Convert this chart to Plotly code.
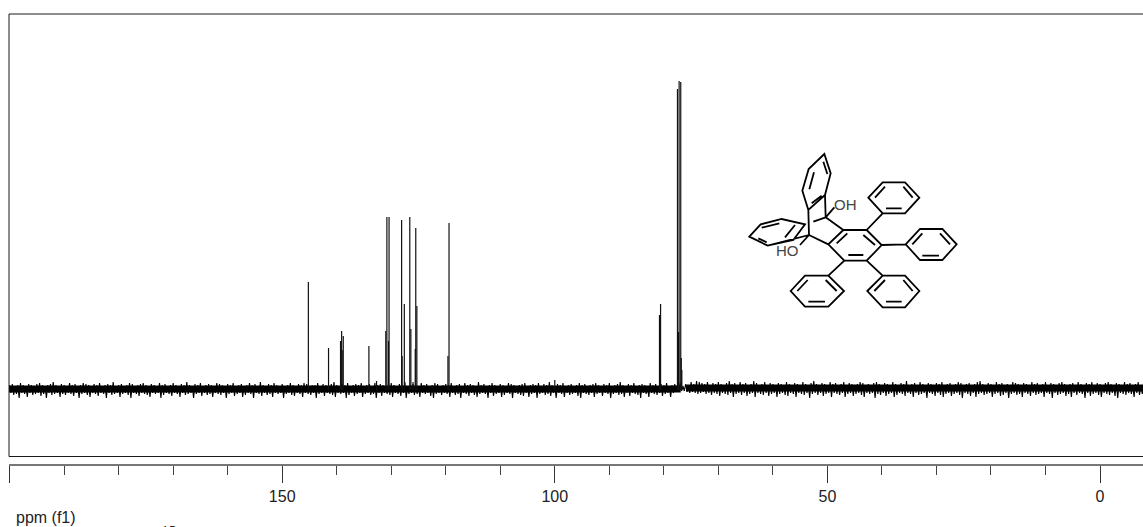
import plotly.graph_objects as go

W, H = 1143, 527

# --- spectrum peaks (ppm, height above baseline) ---
peak_ppm = [145.2, 141.5, 139.3, 139.1, 139.0, 138.8, 134.1, 132.7, 131.0, 130.8, 130.5, 130.4,
            128.1, 128.0, 127.6, 126.6, 126.4, 126.0, 125.6, 125.5, 125.3, 119.6, 119.4,
            100.0, 80.8, 80.6, 77.5, 77.3, 77.2, 76.9, 76.8, 76.7]
peak_height = [108, 42, 49, 59, 40, 54, 44, 9, 59, 173, 49, 173,
               170, 34, 86, 173, 61, 8, 41, 162, 84, 34, 167,
               10, 75, 86, 301, 58, 309, 308, 32, 20]

# --- baseline noise envelope, sampled every 0.5 ppm from 200 ppm downward ---
noise_up = [
 5,6,4,5,7,5,4,6,5,4,6,7,5,4,5,6,8,5,4,6,
 5,4,7,5,6,4,5,7,6,5,4,6,5,7,4,5,6,5,8,4,
 5,6,4,5,7,6,4,5,6,7,5,4,6,5,4,7,5,6,4,5,
 7,5,4,6,5,8,5,4,6,5,7,4,5,6,5,4,7,6,5,4,
 6,5,7,4,5,6,4,5,7,5,6,4,8,5,4,6,5,7,5,4,
 6,4,5,7,5,4,6,5,7,6,4,5,5,7,4,6,5,4,6,8,
 5,4,6,5,7,4,5,6,5,7,4,5,6,4,7,5,6,5,4,6,
 7,5,4,6,5,8,4,5,6,5,4,7,5,6,4,5,7,6,4,5,
 6,5,7,4,5,6,4,7,5,6,5,4,8,5,6,4,5,7,5,4,
 6,5,4,7,6,5,4,5,6,7,4,5,6,5,7,4,6,5,8,5,
 4,6,5,7,4,5,6,4,5,7,5,6,4,5,6,7,5,4,6,5,
 7,4,5,6,8,5,4,6,5,7,4,5,6,5,4,7,5,6,4,6,
 5,7,4,5,6,5,7,4,6,5,8,6,9,8,7,6,8,5,7,6,
 8,6,5,7,9,6,7,5,8,6,7,5,6,9,7,5,6,8,5,7,
 6,5,7,6,4,8,6,5,7,6,5,8,6,5,7,9,6,5,7,6,
 5,8,6,7,5,6,8,5,7,6,5,6,8,7,5,6,5,7,8,6,
 5,7,6,5,8,6,5,7,6,9,5,6,7,5,8,6,5,7,6,5,
 7,6,8,5,6,7,5,6,8,7,5,6,7,5,6,8,9,6,5,7,
 6,5,8,6,7,5,6,5,8,7,6,5,7,6,5,8,6,7,5,6,
 8,5,7,6,5,7,8,6,5,6,7,5,8,6,5,7,6,8,5,7,
 6,5,7,8,6,5,7,6,5,8,6,7,5,6,8,5,7,6,5,7,
]
noise_down = [
 3,5,4,8,3,4,7,3,5,4,3,6,4,8,3,5,4,3,7,4,
 5,3,4,6,3,8,4,3,5,7,3,4,6,3,4,8,3,5,4,3,
 7,4,3,5,8,3,4,6,3,4,5,7,3,4,3,8,5,3,4,6,
 3,4,7,3,5,4,3,8,4,3,6,3,5,4,7,3,4,5,3,8,
 4,3,6,4,3,7,5,3,4,8,3,4,6,3,5,4,7,3,4,3,
 8,4,3,5,6,3,4,7,3,4,5,3,8,4,3,6,3,4,5,7,
 3,4,3,8,5,3,6,4,3,7,4,3,5,4,8,3,6,3,4,5,
 7,3,4,6,3,8,4,3,5,4,7,3,4,3,6,8,4,3,5,3,
 4,7,3,5,4,8,3,4,6,3,5,7,4,3,4,8,3,6,4,3,
 7,5,3,4,8,3,4,5,6,3,7,4,3,8,4,3,5,4,6,3,
 8,3,4,7,3,5,4,3,6,8,3,4,5,3,7,4,3,6,3,4,
 8,4,3,5,4,7,3,6,3,4,5,8,3,4,7,3,4,5,3,6,
 4,3,7,3,2,2,1,1,2,3,2,3,4,3,2,4,3,5,3,4,
 6,3,4,5,3,7,4,3,5,3,6,4,3,7,3,4,5,3,6,4,
 3,7,4,3,5,6,3,4,7,3,4,5,3,8,4,3,5,3,6,4,
 3,7,3,4,5,3,7,4,3,6,4,3,5,7,3,4,3,8,4,5,
 3,6,4,3,7,5,3,4,6,3,4,7,3,5,4,3,8,3,4,6,
 3,5,7,4,3,6,4,3,5,8,3,4,6,3,7,4,3,5,4,3,
 7,4,3,6,5,3,8,4,3,5,4,7,3,4,6,3,5,4,3,7,
 3,4,8,3,5,4,3,6,4,7,3,5,3,4,8,3,6,4,3,5,
 7,3,4,5,3,6,8,3,4,5,3,4,7,3,5,4,3,6,4,3,
]

# solid core of the baseline band (ppm ranges and level), with the gap at the solvent foot
core_ppm = [200.2, 76.9, None, 75.9, -8]
core_level = [1.0, 1.0, None, 2.0, 2.0]

major_ticks = [200, 150, 100, 50, 0]
major_labels = ["", "150", "100", "50", "0"]

# --- structure drawing, in pixel space: closed rings and single bonds ---
OX, OY, S = 740, 145, 1 / 3
rings = [
    [(253,27),(206,72),(187,137),(205,195),(255,150),(272,85)],
    [(28,275),(62,238),(125,222),(195,238),(160,285),(83,302)],
    [(310,255),(380,255),(425,300),(380,347),(313,347),(265,298)],
    [(385,158),(428,112),(495,112),(538,158),(495,205),(428,205)],
    [(497,298),(540,252),(607,252),(650,298),(607,345),(540,345)],
    [(152,438),(195,392),(265,392),(312,438),(265,485),(195,485)],
    [(382,438),(428,392),(495,392),(538,438),(495,487),(428,487)],
]
bonds = [
    ((222,82),(208,133)), ((215,175),(245,152)), ((250,50),(262,87)),
    ((205,195),(207,270)), ((255,150),(257,217)), ((257,217),(220,230)),
    ((257,217),(310,255)), ((207,270),(265,298)), ((257,217),(283,187)),
    ((207,270),(180,300)), ((83,302),(207,270)),
    ((65,248),(118,235)), ((165,240),(135,277)), ((55,280),(80,292)),
    ((290,295),(322,265)), ((370,270),(405,300)), ((325,330),(370,330)),
    ((405,158),(435,125)), ((490,125),(518,158)), ((438,190),(485,190)), ((380,255),(428,205)),
    ((517,298),(547,265)), ((600,265),(630,298)), ((547,332),(597,332)), ((425,300),(497,298)),
    ((172,438),(203,405)), ((257,405),(290,438)), ((205,470),(255,470)), ((313,347),(265,392)),
    ((403,438),(435,405)), ((490,405),(518,438)), ((438,470),(485,470)), ((380,347),(428,392)),
]


def px(p):
    return (OX + p[0] * S) / W, 1 - (OY + p[1] * S) / H


def path_of(pts, close=False):
    parts = []
    for i, p in enumerate(pts):
        x, y = px(p)
        parts.append(f"{'M' if i == 0 else 'L'}{x:.5f},{y:.5f}")
    return " ".join(parts) + (" Z" if close else "")


mol_path = " ".join([path_of(r, True) for r in rings] + [path_of(b) for b in bonds])

# --- traces ---
noise_x, noise_y = [], []
for i, (u, d) in enumerate(zip(noise_up, noise_down)):
    p = 200 - 0.5 * i
    noise_x += [p, p - 0.25]
    noise_y += [u, -d]

peak_x, peak_y = [], []
for p, h in zip(peak_ppm, peak_height):
    peak_x += [p, p, None]
    peak_y += [0, h, None]

fig = go.Figure()
fig.add_trace(go.Scatter(x=noise_x, y=noise_y, mode="lines", showlegend=False, hoverinfo="skip",
                         line=dict(color="#000000", width=1.1)))
fig.add_trace(go.Scatter(x=core_ppm, y=core_level, mode="lines", showlegend=False, hoverinfo="skip",
                         line=dict(color="#000000", width=7)))
fig.add_trace(go.Scatter(x=peak_x, y=peak_y, mode="lines", showlegend=False,
                         line=dict(color="#111111", width=1.2)))


def line_shape(x0, y0, x1, y1):
    return dict(type="line", xref="paper", yref="paper", x0=x0 / W, x1=x1 / W,
                y0=1 - y0 / H, y1=1 - y1 / H, line=dict(color="#1a1a1a", width=1))


shapes = [
    line_shape(9, 14, W, 14),
    line_shape(9, 456.5, W, 456.5),
    line_shape(9, 14, 9, 456.5),
    dict(type="path", xref="paper", yref="paper", path=mol_path, line=dict(color="#000000", width=1.8)),
]

label_font = dict(family="Liberation Sans, Arial, sans-serif", size=16, color="#222222")


def text_at(x, y, text, font, anchor="center"):
    return dict(xref="paper", yref="paper", x=x / W, y=1 - y / H, text=text, showarrow=False,
                xanchor=anchor, yanchor="middle", font=font)


annotations = [
    text_at(14, 517, "ppm (f1)", label_font, "left"),
    text_at(845, 204, "OH", dict(family="Liberation Sans, Arial, sans-serif", size=15, color="#444444")),
    text_at(787, 250, "HO", dict(family="Liberation Sans, Arial, sans-serif", size=15, color="#444444")),
    dict(xref="paper", yref="paper", x=159 / W, y=1 - 521 / H, text="13", showarrow=False,
         xanchor="left", yanchor="top", font=dict(family="Liberation Serif, Times New Roman, serif", size=16, color="#000000")),
]

fig.update_layout(
    width=W, height=H, margin=dict(l=0, r=0, t=0, b=0), paper_bgcolor="white", plot_bgcolor="white",
    showlegend=False, shapes=shapes, annotations=annotations, font=label_font,
    xaxis=dict(domain=[9 / W, 1], range=[(1100 - 9) / 5.452, (1100 - W) / 5.452], anchor="free",
               position=1 - 464.5 / H, showgrid=False, zeroline=False, showline=True,
               linecolor="#777777", linewidth=2, ticks="outside", ticklen=17, tickwidth=1, tickcolor="#333333",
               tickmode="array", tickvals=major_ticks, ticktext=major_labels, ticklabelstandoff=0,
               tickfont=label_font,
               minor=dict(dtick=10, tick0=0, ticks="outside", ticklen=9, tickwidth=1, tickcolor="#444444", showgrid=False)),
    yaxis=dict(domain=[1 - 456.5 / H, 1 - 14 / H], range=[-66.5, 376], visible=False),
)

fig.write_html("out.html", config={"displayModeBar": False},
               post_script="document.body.style.margin='0';document.body.style.overflow='hidden';")
